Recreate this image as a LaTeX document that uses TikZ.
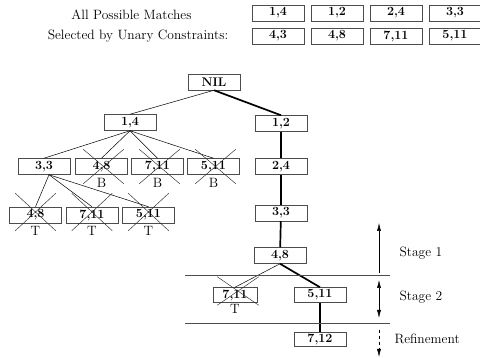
\documentclass[tikz,border=0pt]{standalone}
\usepackage{tikz}
\usetikzlibrary{arrows.meta, positioning, shapes.misc}

\begin{document}
\begin{tikzpicture}[x=1pt, y=-1pt,
    every node/.style={font=\fontsize{13.5}{16}\selectfont},
    match/.style={rectangle, draw=black!70, line width=0.5pt,
                  minimum width=52pt, minimum height=16pt, inner sep=0pt,
                  font=\fontsize{12.5}{14}\selectfont\bfseries},
    struck/.style={cross out, draw=black!85, line width=0.45pt,
                   minimum width=40pt, minimum height=34pt, inner sep=0pt},
    edge/.style={line width=0.5pt},
    chosen/.style={line width=1.7pt},
    tag/.style={inner sep=1pt},
    rule/.style={draw=black!70, line width=0.5pt},
    stage/.style={line width=0.5pt, -{Latex[length=8pt,width=4pt]}}]
  \useasboundingbox (0,0) rectangle (480,358);

  % candidate pairs
  \node (hdall) at (131.5,15) {All Possible Matches};
  \node (hdsel) at (138,36) {Selected by Unary Constraints:};
  \foreach \m [count=\i] in {{1,4},{1,2},{2,4},{3,3}}
    \node[match] (all\i) at ({219+59*\i},13) {\m};
  \foreach \m [count=\i] in {{4,3},{4,8},{7,11},{5,11}}
    \node[match] (sel\i) at ({219+59*\i},36) {\m};

  % search tree
  \node[match] (nil) at (214,82) {NIL};
  \node[match] (l1a) at (130,122.5) {1,4};
  \node[match] (l1b) at (281,123.5) {1,2};
  \node[match] (l2a) at (44,166.5) {3,3};
  \node[match] (l2b) at (101.5,166.5) {4,8};
  \node[match] (l2c) at (157.5,166.5) {7,11};
  \node[match] (l2d) at (213.5,166.5) {5,11};
  \node[match] (l2e) at (281,166.5) {2,4};
  \node[match] (l3a) at (35.5,215) {4,8};
  \node[match] (l3b) at (92,215) {7,11};
  \node[match] (l3c) at (148.5,215) {5,11};
  \node[match] (l3d) at (281,213) {3,3};
  \node[match] (l4) at (280,255.5) {4,8};
  \node[match, minimum width=44pt, minimum height=15pt] (l5a) at (235,295) {7,11};
  \node[match, minimum height=15pt] (l5b) at (320,295) {5,11};
  \node[match, minimum height=14pt] (l6) at (320,339.5) {7,12};

  \draw[edge] (nil.south) -- (l1a.north);
  \draw[chosen] (nil.south) -- (l1b.north);
  \foreach \c in {l2a,l2b,l2c,l2d}
    \draw[edge] (l1a.south) -- (\c.north);
  \foreach \c in {l3a,l3b,l3c}
    \draw[edge] ([xshift=5pt]l2a.south) -- (\c.north);
  \draw[chosen] (l1b) -- (l2e);
  \draw[chosen] (l2e) -- (l3d);
  \draw[chosen] (l3d) -- (l4);
  \draw[edge] (l4.south) -- (l5a.north);
  \draw[chosen] (l4.south) -- (l5b.north);
  \draw[chosen] (l5b) -- (l6);

  % pruned branches
  \foreach \c in {l2b,l2c,l2d} {
    \node[struck] (x\c) at ([xshift=2pt]\c.center) {};
    \node[tag, below=2pt of \c] (t\c) {B};
  }
  \foreach \c in {l3a,l3b,l3c} {
    \node[struck, minimum height=37pt] (x\c) at ([yshift=3pt]\c.center) {};
    \node[tag, below=2pt of \c] (t\c) {T};
  }
  \node[struck, minimum width=41pt, minimum height=28pt] (xl5a) at ([xshift=3pt,yshift=4pt]l5a.center) {};
  \node[tag, below=0.5pt of l5a] (tl5a) {T};

  % stages
  \coordinate (s1w) at (185,275);
  \coordinate (s1e) at (390,275);
  \coordinate (s2w) at (185,323);
  \coordinate (s2e) at (390,323);
  \draw[rule] (s1w) -- (s1e);
  \draw[rule] (s2w) -- (s2e);

  \coordinate (a1b) at (379,273);
  \coordinate (a1t) at (379,223);
  \coordinate (a2t) at (379,280);
  \coordinate (a2b) at (379,318);
  \coordinate (a3t) at (379,330);
  \coordinate (a3b) at (379,357);
  \draw[stage] (a1b) -- (a1t);
  \draw[stage, {Latex[length=8pt,width=4pt]}-{Latex[length=8pt,width=4pt]}] (a2t) -- (a2b);
  \draw[stage, dashed] (a3t) -- (a3b);

  \node[anchor=west] (st1) at (396,253) {Stage 1};
  \node[anchor=west] (st2) at (396,297) {Stage 2};
  \node[anchor=west] (st3) at (391,339) {Refinement};
\end{tikzpicture}
\end{document}
